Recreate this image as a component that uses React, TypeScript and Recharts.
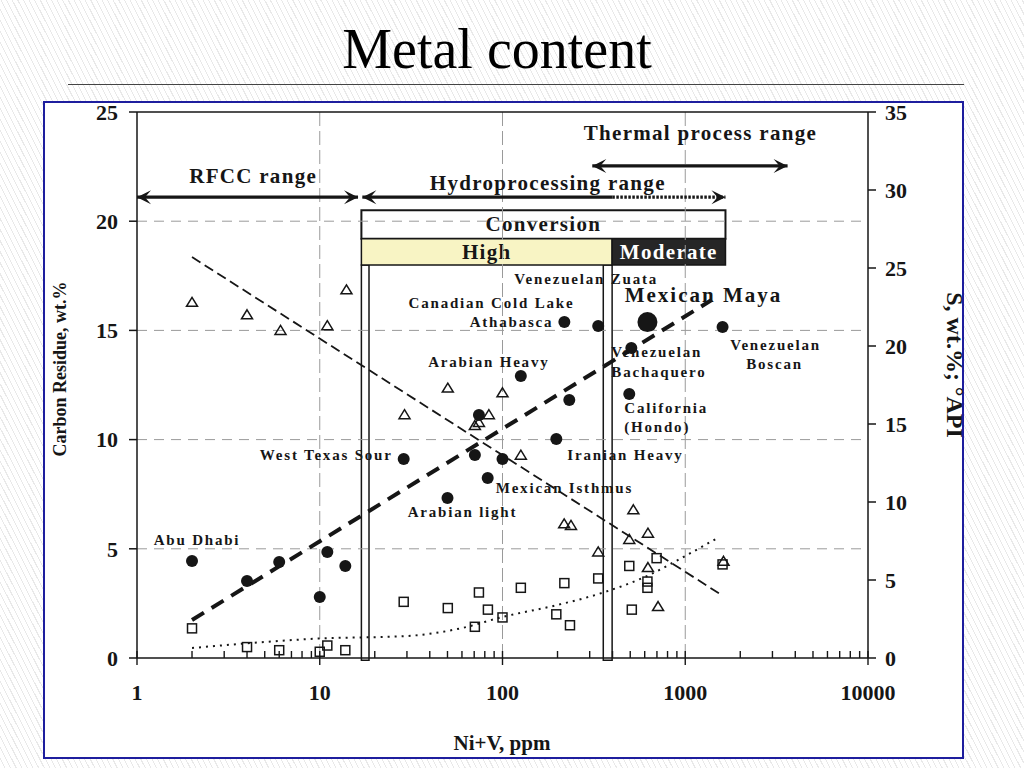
import React from 'react';
import {
  ComposedChart,
  XAxis,
  YAxis,
  Scatter,
  Line,
  ReferenceLine,
  ReferenceArea,
  ReferenceDot,
} from 'recharts';

const FONT = "'Liberation Serif', 'Times New Roman', serif";
const INK = '#161616';

// crude oils: Ni+V (ppm) vs carbon residue (wt.%, left axis), filled circles
const crudeNiV = [2, 4, 6, 10, 11, 13.8, 28.8, 50, 70.6, 74.3, 83, 100, 126, 197, 232, 218, 334, 621, 507, 494, 1600];
const crudeCarbon = [4.44, 3.53, 4.4, 2.79, 4.85, 4.21, 9.11, 7.33, 9.29, 11.13, 8.24, 9.11, 12.91, 10.03, 11.81, 15.38, 15.2, 15.38, 14.19, 12.09, 15.16];
const crudeNames = [
  'Abu Dhabi', '', '', '', '', '', 'West Texas Sour', 'Arabian light', '', '', 'Mexican Isthmus', '',
  'Arabian Heavy', 'Iranian Heavy', '', 'Athabasca', 'Venezuelan Zuata', 'Mexican Maya',
  'Venezuelan Bachaquero', 'California (Hondo)', 'Venezuelan Boscan',
];

// API gravity (right axis), open triangles
const apiNiV = [2, 4, 6.1, 11, 14, 29.1, 50.2, 70.6, 74.3, 84.2, 100, 126, 217.5, 237, 334, 520, 494, 625, 625, 710, 1620];
const apiValues = [22.8, 22.0, 21.0, 21.3, 23.6, 15.6, 17.3, 14.9, 15.1, 15.6, 17.0, 13.0, 8.6, 8.5, 6.8, 9.5, 7.6, 8.0, 5.8, 3.3, 6.2];

// sulphur wt.% (right axis), open squares
const sulfurNiV = [2, 4, 6, 10, 11, 13.8, 28.8, 50.2, 70.6, 74.3, 83.2, 100, 126, 197, 234, 218, 334, 494, 510, 621, 621, 697, 1600];
const sulfurValues = [1.9, 0.7, 0.5, 0.4, 0.8, 0.5, 3.6, 3.2, 2.0, 4.2, 3.1, 2.6, 4.5, 2.8, 2.1, 4.8, 5.1, 5.9, 3.1, 4.9, 4.5, 6.4, 6.0];

// trend lines
const carbonTrendNiV = [2, 1400];
const carbonTrend = [1.74, 16.4];
const apiTrendNiV = [2, 1600];
const apiTrend = [25.7, 4.0];
const sulfurTrendNiV = [2, 10, 30, 60, 100, 200, 350, 600, 1000, 1500];
const sulfurTrend = [0.64, 1.25, 1.41, 1.92, 2.63, 3.4, 4.17, 5.19, 6.54, 7.69];

const xTicks = [
  1, 2, 3, 4, 5, 6, 7, 8, 9,
  10, 20, 30, 40, 50, 60, 70, 80, 90,
  100, 200, 300, 400, 500, 600, 700, 800, 900,
  1000, 2000, 3000, 4000, 5000, 6000, 7000, 8000, 9000, 10000,
];
const xMajor = [1, 10, 100, 1000, 10000];
const leftTicks = [0, 5, 10, 15, 20, 25];
const rightTicks = [0, 5, 10, 15, 20, 25, 30, 35];
const xGrid = [10, 100, 1000];
const yGrid = [5, 10, 15, 20];

const crudeData = crudeNiV.map((x, i) => ({ x, y: crudeCarbon[i], name: crudeNames[i] }));
const apiData = apiNiV.map((x, i) => ({ x, y: apiValues[i] }));
const sulfurData = sulfurNiV.map((x, i) => ({ x, y: sulfurValues[i] }));
const carbonTrendData = carbonTrendNiV.map((x, i) => ({ x, y: carbonTrend[i] }));
const apiTrendData = apiTrendNiV.map((x, i) => ({ x, y: apiTrend[i] }));
const sulfurTrendData = sulfurTrendNiV.map((x, i) => ({ x, y: sulfurTrend[i] }));

// where each crude's name sits relative to its dot: [text, dx, dy, anchor]
type LabelLine = [string, number, number, 'start' | 'middle' | 'end'];
const crudeLabels: Record<string, LabelLine[]> = {
  'Abu Dhabi': [['Abu Dhabi', 5, -16, 'middle']],
  'West Texas Sour': [['West Texas Sour', -11, 1, 'end']],
  'Arabian light': [['Arabian light', 15, 19, 'middle']],
  'Mexican Isthmus': [['Mexican Isthmus', 8, 15, 'start']],
  'Iranian Heavy': [['Iranian Heavy', 11, 21, 'start']],
  'Arabian Heavy': [['Arabian Heavy', -32, -9, 'middle']],
  Athabasca: [
    ['Canadian Cold Lake', 10, -14, 'end'],
    ['Athabasca', -11, 5, 'end'],
  ],
  'Venezuelan Zuata': [['Venezuelan Zuata', -12, -42, 'middle']],
  'Mexican Maya': [['Mexican Maya', 56, -20, 'middle']],
  'Venezuelan Bachaquero': [
    ['Venezuelan', -20, 9, 'start'],
    ['Bachaquero', -20, 29, 'start'],
  ],
  'California (Hondo)': [
    ['California', -5, 19, 'start'],
    ['(Hondo)', -5, 38, 'start'],
  ],
  'Venezuelan Boscan': [
    ['Venezuelan', 53, 23, 'middle'],
    ['Boscan', 52, 42, 'middle'],
  ],
};

const CrudeDot = (props: any) => {
  const { cx, cy, payload } = props;
  const big = payload.name === 'Mexican Maya';
  const lines = crudeLabels[payload.name] || [];
  return (
    <g>
      <circle cx={cx} cy={cy} r={big ? 10 : 6} fill={INK} />
      {lines.map(([t, dx, dy, anchor]) => (
        <text
          key={t}
          x={cx + dx}
          y={cy + dy}
          textAnchor={anchor}
          fontFamily={FONT}
          fontWeight={700}
          fontSize={big ? 21 : 15}
          letterSpacing={big ? 2 : 1.8}
          fill={INK}
        >
          {t}
        </text>
      ))}
    </g>
  );
};

const TriangleDot = ({ cx, cy }: any) => (
  <polygon
    points={`${cx},${cy - 5} ${cx + 5.5},${cy + 4} ${cx - 5.5},${cy + 4}`}
    fill="none"
    stroke={INK}
    strokeWidth={1.5}
  />
);

const SquareDot = ({ cx, cy }: any) => (
  <rect x={cx - 4.5} y={cy - 4.5} width={9} height={9} fill="none" stroke={INK} strokeWidth={1.5} />
);

const XTick = (props: any) => {
  const { x, y, payload } = props;
  const major = xMajor.includes(payload.value);
  return (
    <g>
      <line x1={x} x2={x} y1={y - 7} y2={major ? y + 7 : y} stroke={INK} strokeWidth={1.4} />
      {major && (
        <text x={x} y={y + 42} textAnchor="middle" fontFamily={FONT} fontWeight={700} fontSize={22} fill={INK}>
          {payload.value}
        </text>
      )}
    </g>
  );
};

const head = (x: number, y: number, dir: number) =>
  `M${x},${y} L${x - dir * 14},${y - 7} L${x - dir * 8},${y} L${x - dir * 14},${y + 7} Z`;

const arrow = (start: boolean, end: boolean, dash?: string) => (p: any) => (
  <g>
    <line x1={p.x1} y1={p.y1} x2={p.x2} y2={p.y2} stroke={INK} strokeWidth={3.2} strokeDasharray={dash} />
    {start && <path d={head(p.x1, p.y1, -1)} fill={INK} />}
    {end && <path d={head(p.x2, p.y2, 1)} fill={INK} />}
  </g>
);

const rangeText = (text: string) => (p: any) => (
  <text x={p.cx} y={p.cy} textAnchor="middle" fontFamily={FONT} fontWeight={700} fontSize={21} letterSpacing={1.3} fill={INK}>
    {text}
  </text>
);

const boxLabel = (text: string, color: string) => (p: any) => {
  const { x, y, width, height } = p.viewBox;
  return (
    <text
      x={x + width / 2}
      y={y + height / 2 + 7}
      textAnchor="middle"
      fontFamily={FONT}
      fontWeight={700}
      fontSize={21}
      letterSpacing={1.3}
      fill={color}
    >
      {text}
    </text>
  );
};

const axisFont = { fontSize: 22, fontWeight: 700, fontFamily: FONT, fill: INK };
const axisLine = { stroke: INK, strokeWidth: 1.5 };

export default function App() {
  return (
    <div
      style={{
        position: 'absolute',
        left: 0,
        top: 0,
        width: 1024,
        height: 768,
        overflow: 'hidden',
        background: 'repeating-linear-gradient(63deg, #ffffff 0px, #ffffff 4px, #e9e9e9 4px, #e9e9e9 5px)',
        fontFamily: FONT,
      }}
    >
      <div
        style={{
          position: 'absolute',
          left: 497,
          top: 21,
          transform: 'translateX(-50%)',
          fontSize: 56,
          lineHeight: '56px',
          color: '#000',
          whiteSpace: 'nowrap',
        }}
      >
        Metal content
      </div>
      <div style={{ position: 'absolute', left: 68, top: 84, width: 896, borderTop: '1.5px solid #444' }} />
      <div
        style={{
          position: 'absolute',
          left: 43,
          top: 101,
          width: 921,
          height: 658,
          boxSizing: 'border-box',
          border: '2px solid #1e1e9e',
          background: '#fff',
        }}
      />
      <div style={{ position: 'absolute', left: 0, top: 0 }}>
        <ComposedChart width={1024} height={768} margin={{ top: 112, right: 0, bottom: 0, left: 0 }}>
          <XAxis
            dataKey="x"
            type="number"
            scale="log"
            domain={[1, 10000]}
            ticks={xTicks}
            interval={0}
            tickSize={0}
            tickMargin={0}
            tickLine={false}
            tick={<XTick />}
            axisLine={axisLine}
            height={110}
            allowDataOverflow
            label={(p: any) => (
              <text x={502} y={750} textAnchor="middle" fontFamily={FONT} fontWeight={700} fontSize={21} fill={INK}>
                Ni+V, ppm
              </text>
            )}
          />
          <YAxis
            yAxisId="left"
            dataKey="y"
            type="number"
            domain={[0, 25]}
            ticks={leftTicks}
            interval={0}
            width={137}
            tickSize={8}
            tickMargin={11}
            tick={axisFont}
            tickLine={axisLine}
            axisLine={axisLine}
            label={(p: any) => (
              <text
                transform="translate(66,369) rotate(-90)"
                textAnchor="middle"
                fontFamily={FONT}
                fontWeight={700}
                fontSize={18}
                fill={INK}
              >
                Carbon Residue, wt.%
              </text>
            )}
          />
          <YAxis
            yAxisId="right"
            orientation="right"
            dataKey="y"
            type="number"
            domain={[0, 35]}
            ticks={rightTicks}
            interval={0}
            width={156}
            tickSize={8}
            tickMargin={9}
            tick={axisFont}
            tickLine={axisLine}
            axisLine={axisLine}
            label={(p: any) => (
              <text
                transform="translate(947,365) rotate(90)"
                textAnchor="middle"
                fontFamily={FONT}
                fontWeight={700}
                fontSize={24}
                fill={INK}
              >
                S, wt.%; °API
              </text>
            )}
          />

          {/* dashed grid and top frame */}
          {xGrid.map((v) => (
            <ReferenceLine key={`gx${v}`} yAxisId="left" x={v} stroke="#9a9a9a" strokeDasharray="14 5" />
          ))}
          {yGrid.map((v) => (
            <ReferenceLine key={`gy${v}`} yAxisId="left" y={v} stroke="#9a9a9a" strokeDasharray="10 7" />
          ))}
          <ReferenceLine yAxisId="left" y={25} stroke={INK} strokeWidth={1.5} />

          {/* conversion table and its two columns */}
          <ReferenceArea
            yAxisId="left"
            x1={16.9}
            x2={18.6}
            y1={-0.1}
            y2={18}
            fill="#fff"
            fillOpacity={1}
            stroke={INK}
            strokeWidth={1.5}
            ifOverflow="visible"
          />
          <ReferenceArea
            yAxisId="left"
            x1={356}
            x2={398}
            y1={-0.1}
            y2={18}
            fill="#fff"
            fillOpacity={1}
            stroke={INK}
            strokeWidth={1.5}
            ifOverflow="visible"
          />
          <ReferenceArea
            yAxisId="left"
            x1={16.9}
            x2={1660}
            y1={19.2}
            y2={20.5}
            fill="#fff"
            fillOpacity={1}
            stroke={INK}
            strokeWidth={2}
            ifOverflow="visible"
            label={boxLabel('Conversion', INK)}
          />
          <ReferenceArea
            yAxisId="left"
            x1={16.9}
            x2={398}
            y1={18}
            y2={19.2}
            fill="#f8f4c4"
            fillOpacity={1}
            stroke={INK}
            strokeWidth={1.5}
            ifOverflow="visible"
            label={boxLabel('High', INK)}
          />
          <ReferenceArea
            yAxisId="left"
            x1={398}
            x2={1660}
            y1={18}
            y2={19.2}
            fill="#262626"
            fillOpacity={1}
            stroke={INK}
            strokeWidth={1.5}
            ifOverflow="visible"
            label={boxLabel('Moderate', '#fff')}
          />

          {/* process ranges */}
          <ReferenceLine yAxisId="left" segment={[{ x: 1, y: 21.1 }, { x: 16.2, y: 21.1 }]} shape={arrow(true, true)} ifOverflow="visible" />
          <ReferenceLine yAxisId="left" segment={[{ x: 17.1, y: 21.1 }, { x: 399, y: 21.1 }]} shape={arrow(true, false)} ifOverflow="visible" />
          <ReferenceLine yAxisId="left" segment={[{ x: 399, y: 21.1 }, { x: 1660, y: 21.1 }]} shape={arrow(false, true, '2.5 1.5')} ifOverflow="visible" />
          <ReferenceLine yAxisId="left" segment={[{ x: 310, y: 22.53 }, { x: 3630, y: 22.53 }]} shape={arrow(true, true)} ifOverflow="visible" />
          <ReferenceDot yAxisId="left" x={4.32} y={21.75} r={0} ifOverflow="visible" shape={rangeText('RFCC range')} />
          <ReferenceDot yAxisId="left" x={177} y={21.43} r={0} ifOverflow="visible" shape={rangeText('Hydroprocessing range')} />
          <ReferenceDot yAxisId="left" x={1211} y={23.72} r={0} ifOverflow="visible" shape={rangeText('Thermal process range')} />

          {/* trends */}
          <Line
            yAxisId="right"
            data={sulfurTrendData}
            dataKey="y"
            type="monotone"
            stroke={INK}
            strokeWidth={2}
            strokeDasharray="2 5"
            dot={false}
            isAnimationActive={false}
          />
          <Line
            yAxisId="right"
            data={apiTrendData}
            dataKey="y"
            type="linear"
            stroke={INK}
            strokeWidth={1.8}
            strokeDasharray="10 5"
            dot={false}
            isAnimationActive={false}
          />
          <Line
            yAxisId="left"
            data={carbonTrendData}
            dataKey="y"
            type="linear"
            stroke={INK}
            strokeWidth={4}
            strokeDasharray="14 9"
            dot={false}
            isAnimationActive={false}
          />

          {/* measured crudes */}
          <Scatter yAxisId="right" data={sulfurData} shape={SquareDot} isAnimationActive={false} />
          <Scatter yAxisId="right" data={apiData} shape={TriangleDot} isAnimationActive={false} />
          <Scatter yAxisId="left" data={crudeData} shape={CrudeDot} isAnimationActive={false} />
        </ComposedChart>
      </div>
    </div>
  );
}
